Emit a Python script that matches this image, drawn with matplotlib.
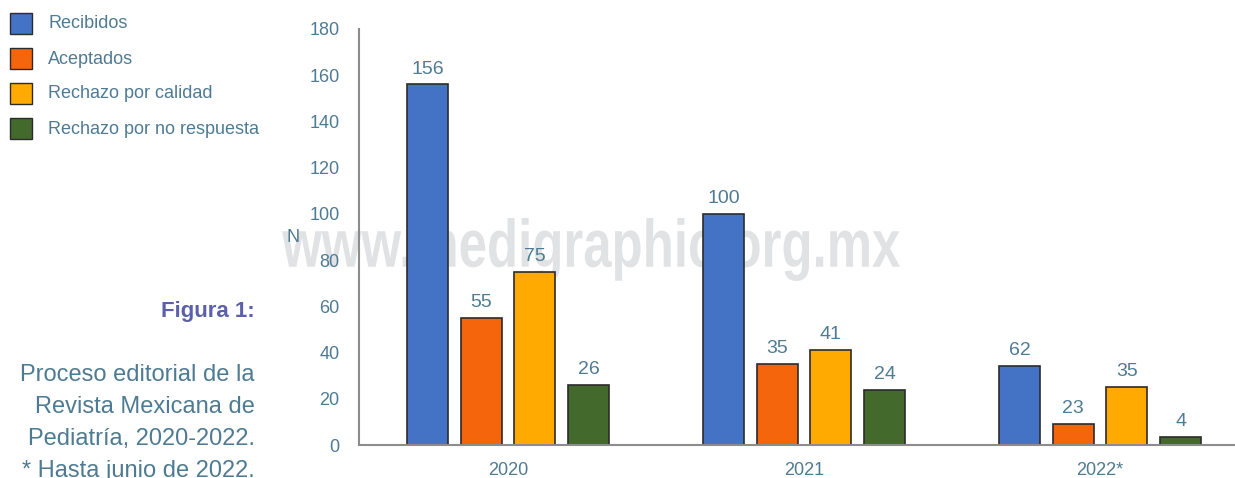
import matplotlib.pyplot as plt
from matplotlib.patches import Rectangle, PathPatch
from matplotlib.textpath import TextPath
from matplotlib.font_manager import FontProperties
from matplotlib.transforms import Affine2D, IdentityTransform
import numpy as np

years = ["2020", "2021", "2022*"]
series = ["Recibidos", "Aceptados", "Rechazo por calidad", "Rechazo por no respuesta"]
colors = ["#4472c4", "#f5650b", "#ffaa00", "#436a2c"]

# bar heights as drawn in the picture (2022 bars are not to scale with their labels)
heights = [
    [156, 100, 34],
    [55, 35, 9],
    [75, 41, 25],
    [26, 24, 3.5],
]
# printed labels
labels = [
    ["156", "100", "62"],
    ["55", "35", "23"],
    ["75", "41", "35"],
    ["26", "24", "4"],
]

caption = ["Proceso editorial de la", "Revista Mexicana de",
           "Pediatría, 2020-2022.", "* Hasta junio de 2022."]

txt = "#4e7b93"
W, H = 1235, 478
plt.rcParams['font.family'] = ['Liberation Sans', 'DejaVu Sans']

fig = plt.figure(figsize=(W/100, H/100), dpi=100)
ax = fig.add_axes([359/W, 1-445/H, 1-359/W, (445-29)/H])

x = np.arange(len(years))
step = 0.1814
width = 0.1385
for i in range(len(series)):
    b = ax.bar(x + (i-1.5)*step, heights[i], width, color=colors[i],
               edgecolor="#2b2b2b", linewidth=1.2, label=series[i], zorder=2)
    for rect, lab in zip(b, labels[i]):
        ax.text(rect.get_x()+rect.get_width()/2, rect.get_height()+3, lab,
                ha='center', va='bottom', fontsize=14, color=txt, zorder=3)

ax.set_xlim(-0.503, 2.456)
ax.set_ylim(0, 180)
ax.set_yticks(range(0, 181, 20))
ax.set_xticks(x)
ax.set_xticklabels(years)
ax.tick_params(length=0, labelsize=13, colors=txt)
ax.tick_params(axis='y', pad=14)
ax.tick_params(axis='x', pad=12)
for s in ["top", "right"]:
    ax.spines[s].set_visible(False)
for s in ["left", "bottom"]:
    ax.spines[s].set_color("#8c8c8c")
    ax.spines[s].set_linewidth(1.5)

fig.text(293/W, 1-237/H, "N", fontsize=13, color=txt, ha='center', va='center')

# watermark, condensed bold, sits behind the bars
tp = TextPath((0, 0), "www.medigraphic.org.mx", size=60,
              prop=FontProperties(family='Liberation Sans', weight='bold'))
ext = tp.get_extents()
x0, x1, ytop, ybot = 282, 900, 218, 281
tr = (Affine2D().translate(-ext.x0, -ext.y0)
      .scale((x1-x0)/ext.width, (ybot-ytop)/ext.height)
      .translate(x0, H-ybot))
wm = PathPatch(tp, transform=tr + IdentityTransform(), facecolor="#e1e2e4",
               edgecolor="none", zorder=0.5, clip_on=False)
ax.add_artist(wm)

# legend drawn by hand
for i, name in enumerate(series):
    yc = 23 + 35*i
    fig.patches.append(Rectangle((10/W, 1-(yc+11)/H), 22/W, 21/H,
                                 transform=fig.transFigure, facecolor=colors[i],
                                 edgecolor="#2b2b2b", linewidth=1.0))
    fig.text(48/W, 1-(yc+1)/H, name, fontsize=13, color=txt, va='center', ha='left')

fig.text(255/W, 1-317/H, "Figura 1:", fontsize=16, fontweight='bold',
         color="#5b60a8", ha='right', va='baseline')
for k, line in enumerate(caption):
    fig.text(255/W, 1-(381 + 32*k)/H, line, fontsize=17, color=txt,
             ha='right', va='baseline')

fig.savefig("out.png", dpi=100)
